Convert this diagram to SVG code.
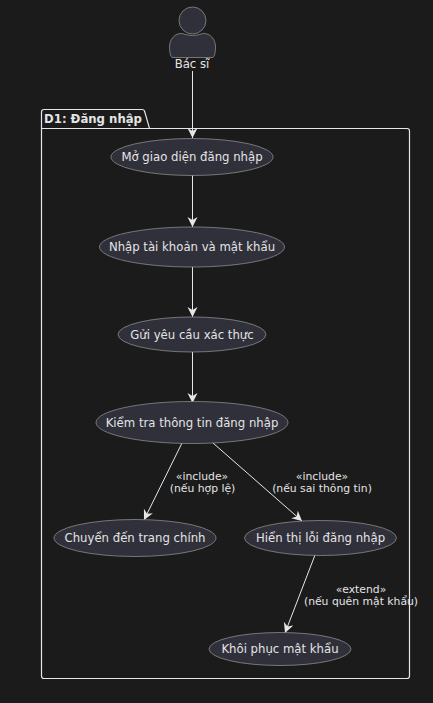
<svg xmlns="http://www.w3.org/2000/svg" width="433" height="703" viewBox="0 0 433 703">
<style>
text{font-family:"DejaVu Sans",sans-serif;font-size:11.7px;fill:#e4e4e4;text-anchor:middle}
.u{fill:#30303a;stroke:#9a9a9a;stroke-width:.7}
.c{stroke:#e6e6e6;stroke-width:1;fill:none;marker-end:url(#a)}
.l{font-size:10.8px}
</style>
<defs><marker id="a" markerUnits="userSpaceOnUse" markerWidth="12" markerHeight="12" refX="10" refY="5" orient="auto"><path d="M0 0L10 5L0 10L3 5Z" fill="#e6e6e6"/></marker></defs>
<rect width="433" height="703" fill="#1b1b1b"/>
<g id="package">
<path d="M41.500 128.500V112Q41.500 109.500 44 109.500H142Q144 109.500 144.500 111L149.500 128.500H407Q409.500 128.500 409.500 131V676Q409.500 678.500 407 678.500H44Q41.500 678.500 41.500 676Z" fill="none" stroke="#e6e6e6" stroke-width="1.200"/>
<path d="M41.500 128.500H149.500" stroke="#e6e6e6" stroke-width="1.200"/>
<text x="93" y="123" style="font-weight:700;font-size:11.700px">D1: Đăng nhập</text>
</g>
<g id="connectors">
<path class="c" d="M192.500 71V138"/>
<path class="c" d="M192.500 175V227"/>
<path class="c" d="M192.500 267V317"/>
<path class="c" d="M192.500 352V403"/>
<path class="c" d="M182 443L144 520"/>
<path class="c" d="M213 443L302 521"/>
<path class="c" d="M315 555L285 633"/>
</g>
<g id="actor">
<circle class="u" cx="192.500" cy="20.500" r="13.500"/>
<path class="u" d="M172 57.500Q169.500 55 169.500 47C169.500 39 175 33 182 33.500Q192.500 37.500 203 33.500C210 33 215.500 39 215.500 47Q215.500 55 213 57.500Z"/>
<text x="192" y="68">Bác sĩ</text>
</g>
<g id="n1"><ellipse class="u" cx="192" cy="157" rx="81" ry="18.500"/><text x="192" y="161">Mở giao diện đăng nhập</text></g>
<g id="n2"><ellipse class="u" cx="192" cy="247" rx="92.500" ry="20"/><text x="192" y="251">Nhập tài khoản và mật khẩu</text></g>
<g id="n3"><ellipse class="u" cx="192" cy="334.500" rx="74" ry="17.500"/><text x="192" y="338.500">Gửi yêu cầu xác thực</text></g>
<g id="n4"><ellipse class="u" cx="192" cy="422.500" rx="96" ry="21"/><text x="192" y="426.500">Kiểm tra thông tin đăng nhập</text></g>
<g id="n5"><ellipse class="u" cx="135" cy="538" rx="81" ry="18.500"/><text x="135" y="542">Chuyển đến trang chính</text></g>
<g id="n6"><ellipse class="u" cx="320.500" cy="538" rx="76" ry="17.500"/><text x="320.500" y="542">Hiển thị lỗi đăng nhập</text></g>
<g id="n7"><ellipse class="u" cx="280" cy="649" rx="71" ry="16.500"/><text x="280" y="653">Khôi phục mật khẩu</text></g>
<g id="labels">
<text class="l" x="202" y="480">«include»</text><text class="l" x="202.500" y="492">(nếu hợp lệ)</text>
<text class="l" x="322" y="480">«include»</text><text class="l" x="322" y="492">(nếu sai thông tin)</text>
<text class="l" x="361" y="593">«extend»</text><text class="l" x="361" y="605">(nếu quên mật khẩu)</text>
</g>
</svg>
